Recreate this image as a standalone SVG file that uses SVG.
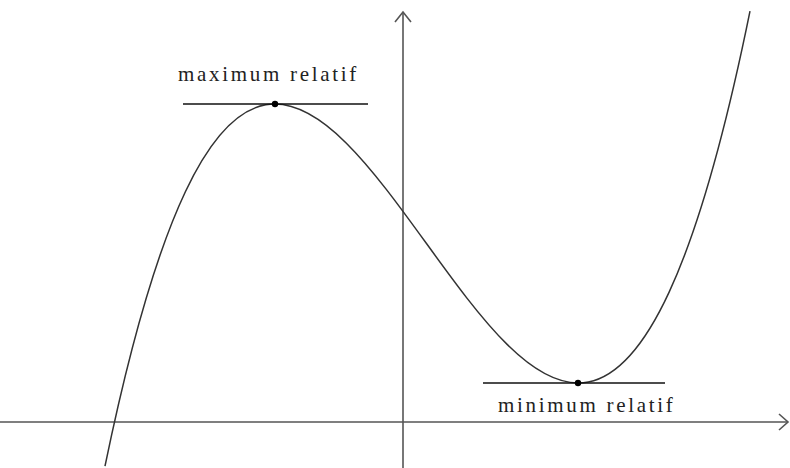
<svg xmlns="http://www.w3.org/2000/svg" width="790" height="468" viewBox="0 0 790 468">
<style>
.axis{stroke:#555;stroke-width:1.6;fill:none}
.curve{stroke:#333;stroke-width:1.5;fill:none}
.tan{stroke:#111;stroke-width:1.3;fill:none}
.lbl{font-family:"Liberation Serif","Times New Roman",serif;font-size:21px;fill:#222;letter-spacing:2.7px}
</style>
<rect width="790" height="468" fill="#fff"/>
<g id="axes">
<line class="axis" x1="0" y1="422" x2="787" y2="422"/>
<polyline class="axis" points="779,414 788,422 779,430"/>
<line class="axis" x1="403" y1="468" x2="403" y2="12"/>
<polyline class="axis" points="395,22 403,12 411,22"/>
</g>
<g id="curve">
<path class="curve" d="M105,466.1 C320,-574.3 535,1068.4 750,11.2"/>
</g>
<g id="maximum">
<line class="tan" x1="183" y1="104" x2="368" y2="104"/>
<circle cx="275" cy="104" r="3.2" fill="#000"/>
<text class="lbl" x="178" y="81">maximum relatif</text>
</g>
<g id="minimum">
<line class="tan" x1="483" y1="383" x2="665" y2="383"/>
<circle cx="578" cy="383" r="3.2" fill="#000"/>
<text class="lbl" x="498" y="412">minimum relatif</text>
</g>
</svg>
